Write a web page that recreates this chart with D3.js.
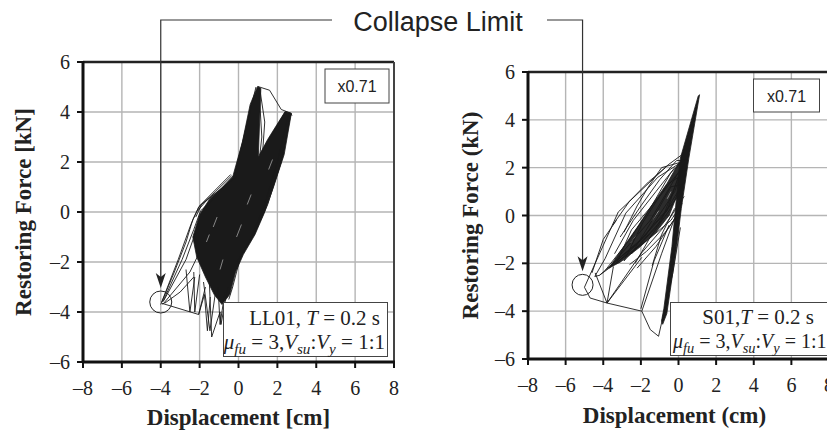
<!DOCTYPE html>
<html>
<head>
<meta charset="utf-8">
<script src="https://cdn.jsdelivr.net/npm/d3@7/dist/d3.min.js"></script>
<style>
	body { margin: 0; background: #fff; }
</style>
</head>
<body>
<div class="fig"></div>
<script>
// axis ticks
const xTicks = [-8, -6, -4, -2, 0, 2, 4, 6, 8]
const yTicks = [-6, -4, -2, 0, 2, 4, 6]
const scaleNote = "x0.71"
const collapseLabel = "Collapse Limit"

// LL01 : solid part of the loops + single strands [disp cm, force kN]
const leftCore = [[0.98, 5.02], [1.15, 4.95], [1.02, 2.2], [1.5, 2.9], [2.4, 4.02], [2.72, 3.95], [2.35, 2.3], [1.8, 1.0], [1.35, 0.0], [0.85, -0.9],
	[0.25, -1.7], [-0.15, -2.4], [-0.45, -3.3], [-0.85, -3.7], [-1.25, -3.3], [-1.7, -2.6], [-2.15, -1.8], [-2.35, -1.0], [-2.0, -0.1],
	[-1.5, 0.5], [-0.8, 1.0], [-0.3, 1.4], [0.2, 2.8], [0.6, 4.3]]
const leftLoops = [
	[[1.0, 5.02], [1.6, 4.87], [2.2, 4.1], [2.7, 3.95], [2.75, 3.85]],
	[[1.05, 4.95], [1.2, 3.0], [1.1, 2.3], [2.4, 4.0]],
	[[1.1, 4.9], [1.35, 3.6], [1.25, 2.5]],
	[[-3.95, -3.65], [-2.05, -4.1], [-1.7, -3.0]],
	[[-3.95, -3.6], [-3.1, -1.9], [-2.45, -0.5], [-2.05, 0.2], [-1.2, 0.8], [-0.35, 1.45]],
	[[-3.9, -3.6], [-2.9, -1.9], [-2.3, -0.7], [-1.95, 0.05], [-1.0, 0.7]],
	[[-3.85, -3.55], [-2.7, -1.9], [-2.2, -0.8]],
	[[-4.0, -3.7], [-3.3, -2.4], [-2.7, -1.2], [-2.35, -0.3], [-2.0, 0.25], [-0.4, 1.5]],
	[[-3.9, -3.7], [-2.5, -2.4], [-2.0, -1.6]],
	[[-3.8, -3.65], [-3.0, -3.2], [-2.3, -2.6]],
	[[-2.7, -2.3], [-2.5, -4.0], [-2.25, -2.6]],
	[[-2.3, -2.4], [-2.25, -4.0], [-2.0, -2.5]],
	[[-2.05, -4.1], [-1.75, -3.3], [-1.6, -4.75], [-1.45, -3.4]],
	[[-1.5, -2.8], [-1.38, -5.0], [-0.95, -4.0], [-0.9, -4.5], [-0.55, -3.0]],
	[[-1.8, -2.8], [-1.47, -4.75], [-1.2, -3.3]],
	[[-1.05, -3.0], [-0.95, -4.5], [-0.7, -3.2]],
	[[2.7, 3.95], [2.2, 2.0], [1.5, 0.3], [0.8, -0.9], [0.1, -1.8], [-0.3, -3.0], [-0.5, -3.5]],
	[[2.6, 4.0], [2.0, 2.0], [1.3, 0.2], [0.6, -1.1], [-0.1, -2.0]],
	[[-2.2, -0.2], [-1.9, 0.3], [-1.0, 0.85], [-0.2, 1.5], [0.9, 5.0]],
	[[-2.1, 0.05], [-1.6, 0.5], [-0.7, 1.05], [-0.1, 1.4]]
]
// thin white streaks visible inside the dense part
const leftGaps = [
	[[-1.3, -0.6], [-1.1, -0.2]],
	[[-0.1, -1.0], [0.15, -0.5]],
	[[0.45, 0.3], [0.65, 0.7]],
	[[-0.95, -2.3], [-0.8, -1.9]],
	[[1.55, 1.7], [1.75, 2.1]],
	[[-1.65, -1.2], [-1.5, -0.9]]
]
const leftCollapse = [-4.0, -3.6]

// S01
const rightBand = [[1.12, 5.05], [0.55, 2.4], [0.15, 0.3], [-0.1, -1.3], [-0.62, -4.1], [-0.84, -4.55], [-0.9, -4.4], [-0.78, -3.9],
	[-0.35, -1.3], [-0.15, 0.4], [0.1, 2.4], [1.05, 5.0]]
const rightCore = [[-3.7, -2.2], [-3.0, -1.4], [-2.2, -0.5], [-1.4, 0.45], [-0.6, 1.35], [0.05, 2.25], [0.3, 2.1], [0.0, 1.0],
	[-0.5, 0.0], [-1.2, -0.7], [-2.1, -1.35], [-3.1, -1.95]]
const rightLoops = [
	[[0.2, 2.55], [-0.55, 2.12], [-3.2, 0.15], [-5.0, -3.0], [-4.7, -3.45], [-3.8, -3.66], [-1.95, -4.0], [-1.5, -4.77], [-1.06, -5.05], [-0.3, -2.4], [0.1, -0.5]],
	[[0.3, 2.3], [-1.1, 1.6], [-2.8, 0.1], [-3.9, -1.8], [-4.45, -2.55], [-4.2, -2.5], [-2.0, -1.0], [0.0, 0.8]],
	[[-4.43, -2.4], [-3.8, -3.66], [-2.0, -1.6], [-0.8, -0.5], [0.3, 0.8]],
	[[-3.46, -2.13], [-3.8, -3.66], [-1.95, -1.75]],
	[[-2.0, -3.9], [-1.3, -1.9], [-0.5, -0.4]],
	[[-1.95, -4.0], [-0.9, -1.6], [-0.2, -0.1]],
	[[-4.6, -2.4], [-4.0, -1.0], [-3.3, -0.2]],
	[[-3.6, -2.1], [-1.5, -0.2], [0.3, 2.2], [-0.2, 1.0], [-1.8, -0.9], [-3.6, -2.1]],
	[[-3.3, -2.0], [-2.5, -0.6], [-1.0, 0.8], [0.1, 1.9], [-0.6, 0.2], [-2.2, -1.2], [-3.3, -2.0]],
	[[-2.9, -1.9], [-1.9, -0.3], [-0.6, 1.3], [0.0, 1.6], [-0.9, -0.2], [-2.9, -1.9]],
	[[-2.5, -1.6], [-1.4, -0.2], [-0.4, 1.2], [0.2, 1.3], [-1.2, -0.5], [-2.5, -1.6]],
	[[-3.1, -0.9], [-2.0, 0.4], [-1.0, 1.5], [-0.1, 2.3], [0.5, 2.3]],
	[[-2.3, -2.0], [-1.5, -0.9], [-0.5, 0.2], [0.3, 1.4]],
	[[-1.4, -2.1], [-0.9, -0.8], [-0.2, 0.3]],
	[[-2.9, -0.7], [-2.2, 0.4], [-1.6, 1.2], [-0.9, 2.0], [0.0, 2.2]],
	[[-2.2, -2.2], [-1.2, -1.3], [0.0, 0.1]],
	[[-3.9, -2.3], [-2.6, -1.0], [-1.5, 0.3], [-0.4, 1.8], [0.4, 2.4]],
	[[-3.4, -1.6], [-2.4, -0.2], [-1.2, 1.0], [-0.2, 2.0]],
	[[-4.2, -2.5], [-3.0, -1.8], [-1.6, -1.0], [-0.4, -0.2], [0.2, 0.5]],
	[[-2.6, -2.05], [-1.7, -1.5], [-0.7, -0.7], [0.1, 0.2]],
	[[-3.5, -0.4], [-2.6, 0.6], [-1.6, 1.4], [-0.7, 2.0]]
]
const rightGaps = [
	[[-2.55, -1.15], [-2.2, -0.8]],
	[[-1.4, -0.2], [-1.05, 0.2]],
	[[-0.6, 0.7], [-0.4, 1.0]]
]
const rightCollapse = [-5.1, -2.9]

function tickText(v) {
	return v < 0 ? "\u2013" + Math.abs(v) : String(v)
}

const serif = "Liberation Serif, Times New Roman, serif"

const svg = d3.select(".fig").append("svg")
	.attr("width", 827)
	.attr("height", 431)
	.style("display", "block")

function plot_panel(p) {
	const x = d3.scaleLinear().domain([-8, 8]).range([p.x0, p.x1])
	const y = d3.scaleLinear().domain([-6, 6]).range([p.y1, p.y0])
	const g = svg.append("g")

	// grid
	g.selectAll("line.vg").data(xTicks).join("line")
		.attr("class", "vg")
		.attr("x1", d => x(d)).attr("x2", d => x(d))
		.attr("y1", p.y0).attr("y2", p.y1)
		.attr("stroke", "#b5b5b5").attr("stroke-width", 1.4)
	g.selectAll("line.hg").data(yTicks).join("line")
		.attr("class", "hg")
		.attr("x1", p.x0).attr("x2", p.x1)
		.attr("y1", d => y(d)).attr("y2", d => y(d))
		.attr("stroke", "#b5b5b5").attr("stroke-width", 1.4)

	const line = d3.line().x(d => x(d[0])).y(d => y(d[1]))

	// loops
	g.append("path").datum(p.core)
		.attr("d", line.curve(d3.curveLinearClosed))
		.attr("fill", "#1a1a1a").attr("fill-opacity", p.coreOpacity)
		.attr("stroke", "#1a1a1a").attr("stroke-width", 0.8)
	if (p.band) {
		g.append("path").datum(p.band)
			.attr("d", line.curve(d3.curveLinearClosed))
			.attr("fill", "#1a1a1a").attr("stroke", "#1a1a1a").attr("stroke-width", 0.8)
	}
	line.curve(d3.curveLinear)
	g.selectAll("path.gap").data(p.gaps).join("path")
		.attr("class", "gap")
		.attr("d", line)
		.attr("fill", "none")
		.attr("stroke", "#fff")
		.attr("stroke-opacity", 0.8)
		.attr("stroke-width", 0.6)
	g.selectAll("path.loop").data(p.loops).join("path")
		.attr("class", "loop")
		.attr("d", line)
		.attr("fill", "none")
		.attr("stroke", "#1a1a1a")
		.attr("stroke-width", 0.9)
		.attr("stroke-linejoin", "round")

	// frame
	g.append("line").attr("x1", p.x0).attr("x2", p.x1).attr("y1", p.y0).attr("y2", p.y0)
		.attr("stroke", "#222").attr("stroke-width", 2.5)
	g.append("line").attr("x1", p.x1).attr("x2", p.x1).attr("y1", p.y0).attr("y2", p.y1)
		.attr("stroke", "#444").attr("stroke-width", 2)
	g.append("line").attr("x1", p.x0).attr("x2", p.x1 + 1).attr("y1", p.y1).attr("y2", p.y1)
		.attr("stroke", "#111").attr("stroke-width", 3)
	g.append("line").attr("x1", p.x0).attr("x2", p.x0).attr("y1", p.y0 - 1).attr("y2", p.y1 + 1)
		.attr("stroke", "#111").attr("stroke-width", 3)

	// ticks
	g.selectAll("line.xt").data(xTicks).join("line")
		.attr("class", "xt")
		.attr("x1", d => x(d)).attr("x2", d => x(d))
		.attr("y1", p.y1).attr("y2", p.y1 + 6)
		.attr("stroke", "#111").attr("stroke-width", 2)
	g.selectAll("line.yt").data(yTicks).join("line")
		.attr("class", "yt")
		.attr("x1", p.x0 - 6).attr("x2", p.x0)
		.attr("y1", d => y(d)).attr("y2", d => y(d))
		.attr("stroke", "#111").attr("stroke-width", 2)

	g.selectAll("text.xl").data(xTicks).join("text")
		.attr("class", "xl")
		.attr("x", d => x(d))
		.attr("y", p.y1 + 33)
		.attr("text-anchor", "middle")
		.attr("font-family", serif)
		.attr("font-size", 20)
		.attr("fill", "#222")
		.text(tickText)
	g.selectAll("text.yl").data(yTicks).join("text")
		.attr("class", "yl")
		.attr("x", p.x0 - 13)
		.attr("y", d => y(d) + 7)
		.attr("text-anchor", "end")
		.attr("font-family", serif)
		.attr("font-size", 20)
		.attr("fill", "#222")
		.text(tickText)

	// axis titles
	g.append("text")
		.attr("x", (p.x0 + p.x1) / 2 + p.xTitleShift)
		.attr("y", p.xTitleY)
		.attr("text-anchor", "middle")
		.attr("font-family", serif)
		.attr("font-size", 23)
		.attr("font-weight", "bold")
		.attr("fill", "#222")
		.text(p.xTitle)
	g.append("text")
		.attr("transform", `translate(${p.yTitleX},${(p.y0 + p.y1) / 2}) rotate(-90)`)
		.attr("text-anchor", "middle")
		.attr("font-family", serif)
		.attr("font-size", 23)
		.attr("font-weight", "bold")
		.attr("fill", "#222")
		.text(p.yTitle)

	// scale note box
	g.append("rect")
		.attr("x", p.noteBox[0]).attr("y", p.noteBox[1])
		.attr("width", p.noteBox[2]).attr("height", p.noteBox[3])
		.attr("fill", "#fff").attr("stroke", "#444").attr("stroke-width", 1)
	g.append("text")
		.attr("x", p.noteBox[0] + p.noteBox[2] / 2)
		.attr("y", p.noteBox[1] + p.noteBox[3] / 2 + 6)
		.attr("text-anchor", "middle")
		.attr("font-family", "Liberation Sans, Arial, sans-serif")
		.attr("font-size", 16)
		.attr("fill", "#222")
		.text(scaleNote)

	// record label box
	const b = p.labelBox
	g.append("rect")
		.attr("x", b[0]).attr("y", b[1]).attr("width", b[2]).attr("height", b[3])
		.attr("fill", "#fff").attr("stroke", "#444").attr("stroke-width", 1)
	const t1 = g.append("text")
		.attr("x", p.line1[0]).attr("y", p.line1[1])
		.attr("text-anchor", "end")
		.attr("font-family", serif).attr("font-size", 21).attr("fill", "#222")
	t1.append("tspan").text(p.record + ",")
	t1.append("tspan").text(p.commaSpace ? " " : "")
	t1.append("tspan").attr("font-style", "italic").text("T")
	t1.append("tspan").text(" = 0.2 s")

	const t2 = g.append("text")
		.attr("x", p.line2[0]).attr("y", p.line2[1])
		.attr("text-anchor", p.line2Anchor)
		.attr("font-family", serif).attr("font-size", p.line2Size).attr("fill", "#222")
	const sub = p.line2Size * 0.72
	t2.append("tspan").attr("font-style", "italic").text("\u03bc")
	t2.append("tspan").attr("font-style", "italic").attr("font-size", sub).attr("dy", 5).text("fu")
	t2.append("tspan").attr("dy", -5).text(" = 3,")
	t2.append("tspan").attr("font-style", "italic").text("V")
	t2.append("tspan").attr("font-style", "italic").attr("font-size", sub).attr("dy", 5).text("su")
	t2.append("tspan").attr("dy", -5).text(":")
	t2.append("tspan").attr("font-style", "italic").text("V")
	t2.append("tspan").attr("font-style", "italic").attr("font-size", sub).attr("dy", 5).text("y")
	t2.append("tspan").attr("dy", -5).text(" = 1:1")

	// collapse marker
	const cx = x(p.collapse[0]), cy = y(p.collapse[1])
	g.append("circle")
		.attr("cx", cx).attr("cy", cy).attr("r", p.circleR)
		.attr("fill", "none").attr("stroke", "#222").attr("stroke-width", 1)
	const tipY = cy - p.circleR - 3
	g.append("path")
		.attr("d", `M${p.leaderX},20 H${cx} V${tipY - 8}`)
		.attr("fill", "none").attr("stroke", "#333").attr("stroke-width", 1.2)
	g.append("path")
		.attr("d", `M${cx},${tipY} L${cx - 5},${tipY - 15} L${cx},${tipY - 11} L${cx + 5},${tipY - 15} Z`)
		.attr("fill", "#222")
}

plot_panel({
	x0: 83, x1: 394, y0: 62, y1: 362,
	core: leftCore, coreOpacity: 1, band: null, loops: leftLoops, gaps: leftGaps,
	xTitle: "Displacement [cm]", xTitleY: 425, xTitleShift: 0,
	yTitle: "Restoring Force [kN]", yTitleX: 31,
	noteBox: [325, 69, 64, 34],
	labelBox: [223.5, 302.5, 164, 54],
	record: "LL01", commaSpace: true,
	line1: [380, 325], line2: [385, 349], line2Anchor: "end", line2Size: 21,
	collapse: leftCollapse, circleR: 11, leaderX: 332
})

plot_panel({
	x0: 528, x1: 829, y0: 72, y1: 359,
	core: rightCore, coreOpacity: 0.92, band: rightBand, loops: rightLoops, gaps: rightGaps,
	xTitle: "Displacement (cm)", xTitleY: 423, xTitleShift: -4,
	yTitle: "Restoring Force (kN)", yTitleX: 478,
	noteBox: [753.5, 79, 66, 33],
	labelBox: [670.5, 302.5, 170, 53],
	record: "S01", commaSpace: false,
	line1: [814, 324], line2: [673, 348], line2Anchor: "start", line2Size: 20,
	collapse: rightCollapse, circleR: 10.5, leaderX: 547
})

svg.append("text")
	.attr("x", 438)
	.attr("y", 31)
	.attr("text-anchor", "middle")
	.attr("font-family", "Liberation Sans, Arial, sans-serif")
	.attr("font-size", 27)
	.attr("fill", "#222")
	.text(collapseLabel)
</script>
</body>
</html>
